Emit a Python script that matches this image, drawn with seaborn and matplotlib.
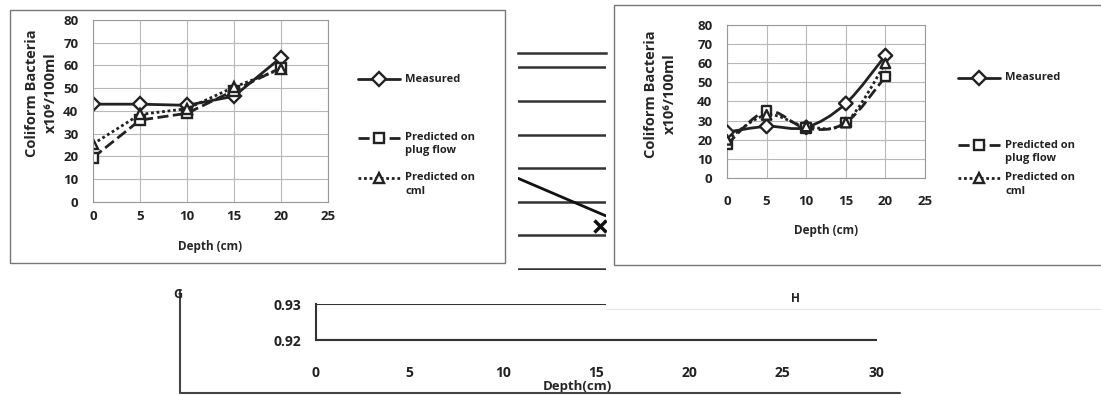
import numpy as np
import pandas as pd
import matplotlib
matplotlib.use("Agg")
import matplotlib.pyplot as plt
from matplotlib.path import Path
from matplotlib.patches import PathPatch, Rectangle
import seaborn as sns

# canvas size in pixels (dpi 100)
W, H = 1101, 395

# ---- data ----
depth = [0, 5, 10, 15, 20]
series_names = ["Measured", "Predicted on plug flow", "Predicted on cml"]
legend_labels = ["Measured", "Predicted on\nplug flow", "Predicted on\ncml"]

left_measured = [43, 43, 42.5, 46.5, 63.5]
left_plug = [19.5, 36, 39, 49, 59]
left_cml = [25.5, 38.5, 41, 50.5, 58.5]

right_measured = [24, 27, 26.5, 39, 64]
right_plug = [17.5, 35, 26, 29, 53]
right_cml = [20, 33, 27, 29, 60]

x_ticks = [0, 5, 10, 15, 20, 25]
y_ticks = [0, 10, 20, 30, 40, 50, 60, 70, 80]
y_label = "Coliform Bacteria\nx10\u2076/100ml"
x_label = "Depth (cm)"

# scrap of a chart hidden behind the two panels
frag_grid = [0, 1, 2, 3, 4, 5, 6]
frag_x = [0.0, 1.0]
frag_y = [2.7, 1.58]
frag_mark_x = [0.93]
frag_mark_y = [1.28]

# strip of the chart below
strip_x_ticks = [0, 5, 10, 15, 20, 25, 30]
strip_y_ticks = [0.92, 0.93]

INK = "#222222"
GRID = "#b8b8b8"
MARKERS = {"Measured": "D", "Predicted on plug flow": "s", "Predicted on cml": "^"}
DASHES = {"Measured": "", "Predicted on plug flow": (4, 1.6), "Predicted on cml": (1, 1)}
LSTYLE = {"Measured": "-", "Predicted on plug flow": (0, (4, 1.6)), "Predicted on cml": (0, (1, 1))}

sns.set_theme(style="white")
plt.rcParams["font.family"] = ["Open Sans", "DejaVu Sans"]
plt.rcParams["font.weight"] = "bold"
plt.rcParams["axes.labelweight"] = "bold"

fig = plt.figure(figsize=(W / 100, H / 100), dpi=100)
fig.patch.set_facecolor("white")


def box(l, t, r, b):
    return [l / W, 1 - b / H, (r - l) / W, (b - t) / H]


def smooth_path(xs, ys):
    # excel style smoothed line: bezier segments through the points
    pts = np.column_stack([xs, ys]).astype(float)
    ext = np.vstack([pts[0], pts, pts[-1]])
    verts = [pts[0]]
    codes = [Path.MOVETO]
    for i in range(len(pts) - 1):
        p0, p1, p2, p3 = ext[i], ext[i + 1], ext[i + 2], ext[i + 3]
        verts += [p1 + (p2 - p0) / 6, p2 - (p3 - p1) / 6, p2]
        codes += [Path.CURVE4] * 3
    return Path(verts, codes)


def panel(rect, values, smooth, ylab_xy, xlab_y, xpad):
    ax = fig.add_axes(rect)
    df = pd.DataFrame({
        "depth": depth * 3,
        "value": values[0] + values[1] + values[2],
        "series": np.repeat(series_names, len(depth)),
    })
    if smooth:
        for name, vals in zip(series_names, values):
            ax.add_patch(PathPatch(smooth_path(depth, vals), fill=False,
                                   ec=INK, lw=2, ls=LSTYLE[name], zorder=2))
        sns.scatterplot(data=df, x="depth", y="value", style="series",
                        markers=MARKERS, s=48, color="white", edgecolor=INK,
                        linewidth=1.7, legend=False, ax=ax, zorder=3)
    else:
        sns.lineplot(data=df, x="depth", y="value", hue="series", style="series",
                     palette=[INK] * 3, markers=MARKERS, dashes=DASHES,
                     lw=2, markersize=7.5, markerfacecolor="white",
                     markeredgecolor=INK, markeredgewidth=1.7,
                     legend=False, ax=ax)
    ax.set_xlim(0, 25)
    ax.set_ylim(0, 80)
    ax.set_xticks(x_ticks)
    ax.set_yticks(y_ticks)
    ax.grid(True, color=GRID, lw=0.8)
    for s in ax.spines.values():
        s.set_color("#999999")
        s.set_linewidth(0.8)
    ax.tick_params(axis="both", colors="#888888", labelcolor=INK,
                   labelsize=9.5, length=3, direction="inout")
    ax.tick_params(axis="y", pad=9)
    ax.tick_params(axis="x", pad=xpad)
    ax.set_xlabel(x_label, fontsize=8.5)
    ax.set_ylabel(y_label, fontsize=10.5, linespacing=1.45)
    ax.xaxis.set_label_coords(0.5, xlab_y)
    ax.yaxis.set_label_coords(*ylab_xy)
    return ax


ax_l = panel(box(93, 20, 328, 202), [left_measured, left_plug, left_cml],
             False, (-0.15, 0.6), -0.21, 4)
ax_r = panel(box(727, 25, 925, 178), [right_measured, right_plug, right_cml],
             True, (-0.255, 0.55), -0.30, 11)

# ---- scrap of the hidden chart between panels ----
ax_f = fig.add_axes(box(518, 53, 606, 270))
ax_f.set_xlim(0, 1)
ax_f.set_ylim(-0.03, 6.43)
ax_f.set_yticks(frag_grid)
ax_f.set_xticks([])
ax_f.yaxis.grid(True, color="#333333", lw=1.8)
ax_f.tick_params(left=False, labelleft=False)
for k, s in ax_f.spines.items():
    s.set_visible(k == "top")
ax_f.spines["top"].set_color("#333333")
ax_f.spines["top"].set_linewidth(1.8)
sns.lineplot(x=frag_x, y=frag_y, color="#111111", lw=2, ax=ax_f)
ax_f.plot(frag_mark_x, frag_mark_y, "x", color="#111111", ms=8, mew=2.5)

# ---- bottom strip ----
ax_s = fig.add_axes(box(316, 304, 876, 340))
ax_s.set_xlim(0, 30)
ax_s.set_ylim(0.92, 0.93)
ax_s.set_xticks(strip_x_ticks)
ax_s.set_yticks(strip_y_ticks)
ax_s.set_yticklabels([f"{v:.2f}" for v in strip_y_ticks])
ax_s.yaxis.grid(True, color="#333333", lw=1.5)
ax_s.spines["top"].set_visible(False)
ax_s.spines["right"].set_visible(False)
for k in ["left", "bottom"]:
    ax_s.spines[k].set_color("#333333")
    ax_s.spines[k].set_linewidth(1.5)
ax_s.tick_params(axis="both", colors="#333333", labelcolor=INK, labelsize=10,
                 length=5, direction="inout", width=1.2)
ax_s.tick_params(axis="y", pad=8)
ax_s.tick_params(axis="x", pad=16)
ax_s.set_xlabel("Depth(cm)", fontsize=9.5)
ax_s.xaxis.set_label_coords((577 - 316) / 560, -1.12)

# ---- overlay for frames, legends and scan leftovers (pixel coords) ----
ov = fig.add_axes([0, 0, 1, 1], zorder=10)
ov.set_xlim(0, W)
ov.set_ylim(H, 0)
ov.axis("off")
ov.patch.set_alpha(0)

ov.add_patch(Rectangle((10, 10), 495, 253, fill=False, ec="#777777", lw=1))
ov.add_patch(Rectangle((614, 5), 520, 260, fill=False, ec="#777777", lw=1))
ov.add_patch(Rectangle((606, 272), 500, 37, fc="white", ec="none"))
ov.plot([606, 1101], [309, 309], color="#e6e6e6", lw=0.8)
ov.plot([180, 180, 900], [290, 393, 393], color="#444444", lw=1.5)
ov.text(178, 294, "G", fontsize=9, color=INK, ha="center", va="center")
ov.text(795, 299, "H", fontsize=8.5, color=INK, ha="center", va="center")


def legend(x0, x1, xt, rows):
    for name, lab, y in zip(series_names, legend_labels, rows):
        ov.plot([x0, x1], [y, y], color=INK, lw=2, ls=LSTYLE[name])
        ov.plot([(x0 + x1) / 2], [y], MARKERS[name], ms=7, mfc="white",
                mec=INK, mew=1.7)
        for k, line in enumerate(lab.split("\n")):
            ov.text(xt, y + k * 13, line, fontsize=8, color=INK,
                    ha="left", va="center")


legend(358, 400, 405, [79, 138, 178])
legend(958, 1000, 1005, [78, 145, 178])

fig.savefig("out.png", dpi=100)
